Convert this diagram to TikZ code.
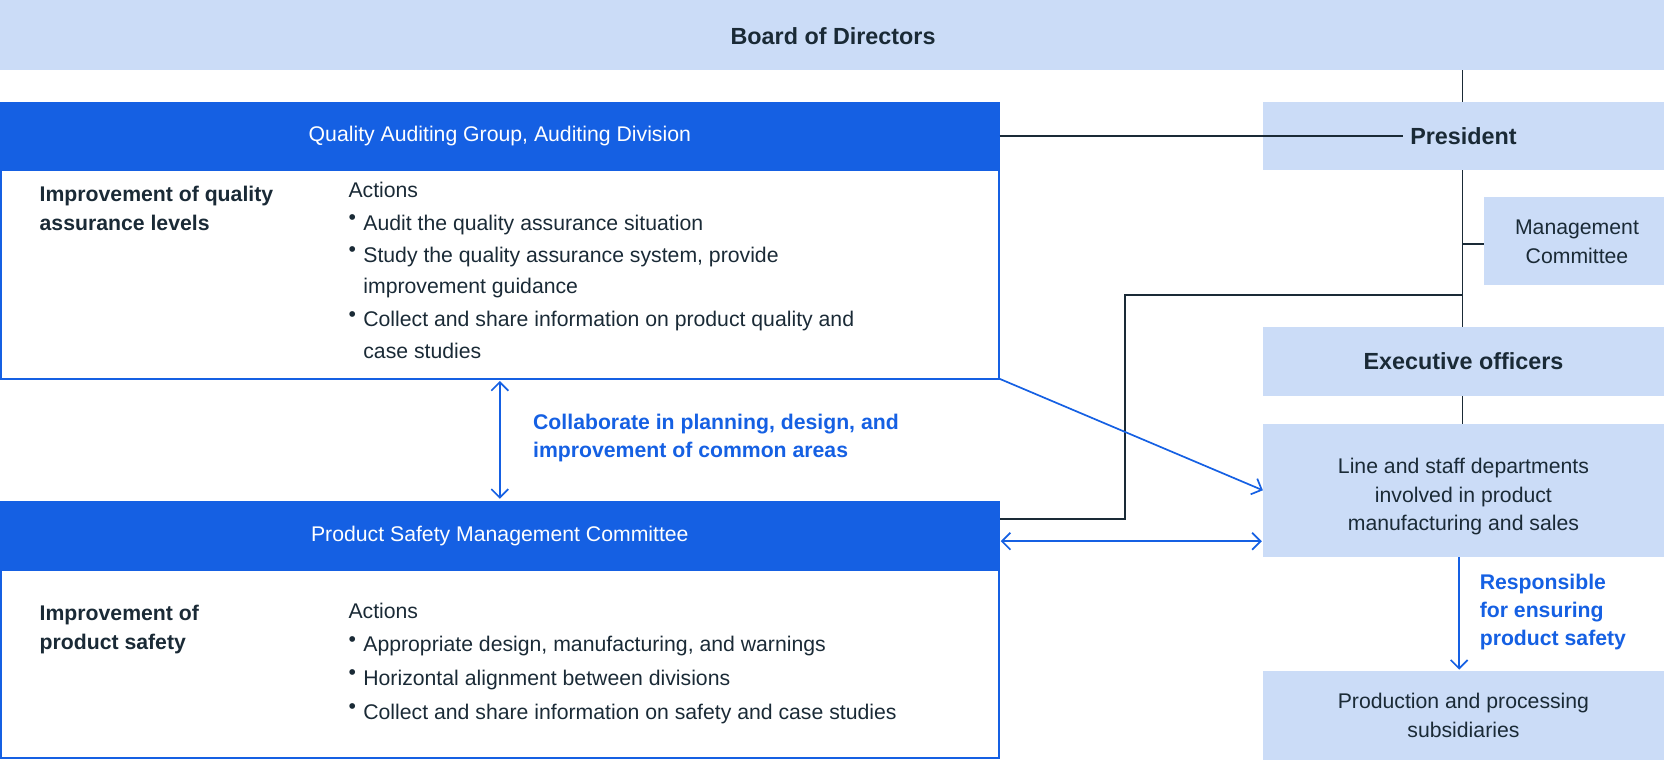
\documentclass[tikz,border=0pt]{standalone}
\usepackage{fontspec}
\setmainfont{Liberation Sans}
\usetikzlibrary{arrows.meta}
\definecolor{lb}{HTML}{CBDCF7}
\definecolor{db}{HTML}{1560E3}
\definecolor{tx}{HTML}{1A2A36}
\begin{document}
\begin{tikzpicture}[x=0.5pt,y=-0.5pt,
  lbox/.style={fill=lb,draw=none},
  t/.style={text=tx,font=\fontsize{10}{13.5}\selectfont,align=center},
  ln/.style={draw=tx,line width=0.8pt},
  bl/.style={draw=db,line width=0.8pt,-{Straight Barb[length=4pt,width=8pt]}},
  bll/.style={draw=db,line width=0.8pt,{Straight Barb[length=4pt,width=8pt]}-{Straight Barb[length=4pt,width=8pt]}},
  bt/.style={text=db,font=\fontsize{10}{13}\selectfont\bfseries,align=left,anchor=north west,inner sep=0},
  lt/.style={text=tx,font=\fontsize{10}{15}\selectfont,align=left,anchor=north west,inner sep=0}]
\useasboundingbox (0,0) rectangle (1568,716);
% vertical trunk
\coordinate (v0) at (1378,66);
\coordinate (v1) at (1378,430);
\draw[ln] (v0) -- (v1);
\coordinate (mj) at (1378,230);
\coordinate (pj) at (1378,278);
\coordinate (pk) at (1060,278);
\coordinate (pl) at (1060,489);
% boxes
\fill[lb] (0,0) rectangle (1568,66);
\node[t,font=\fontsize{11}{13}\selectfont\bfseries] (board) at (785,34) {Board of Directors};
\fill[lb] (1190,96) rectangle (1568,160);
\node[t,font=\fontsize{11}{13}\selectfont\bfseries] (pres) at (1379,128) {President};
\fill[lb] (1398,186) rectangle (1568,269);
\node[t] (mc) at (1486,228) {Management\\Committee};
\fill[lb] (1190,308) rectangle (1568,373);
\node[t,font=\fontsize{11}{13}\selectfont\bfseries] (exec) at (1379,340) {Executive officers};
\fill[lb] (1190,400) rectangle (1568,525);
\node[t] (line) at (1379,468) {Line and staff departments\\involved in product\\manufacturing and sales};
\fill[lb] (1190,632) rectangle (1568,716);
\node[t] (prod) at (1379,674) {Production and processing\\subsidiaries};
% QA
\fill[db] (0,96) rectangle (942,160);
\draw[db,line width=0.8pt] (0.7,160) rectangle (941.3,357);
\node[t,text=white] (qa) at (471,128) {Quality Auditing Group, Auditing Division};
\node[lt,font=\fontsize{10}{13.5}\selectfont\bfseries] (qal) at (37,175) {Improvement of quality\\assurance levels};
\node[lt] (qaa) at (328,171) {Actions};
\node[lt] at (328,202) {•};
\node[lt] at (342,202) {Audit the quality assurance situation};
\node[lt] at (328,232) {•};
\node[lt] at (342,232) {Study the quality assurance system, provide\\improvement guidance};
\node[lt] at (328,293) {•};
\node[lt] at (342,293) {Collect and share information on product quality and\\case studies};
% PSMC
\fill[db] (0,472) rectangle (942,537);
\draw[db,line width=0.8pt] (0.7,537) rectangle (941.3,714);
\node[t,text=white] (ps) at (471,505) {Product Safety Management Committee};
\node[lt,font=\fontsize{10}{13.5}\selectfont\bfseries] (psl) at (37,570) {Improvement of\\product safety};
\node[lt] at (328,568) {Actions};
\node[lt] at (328,599) {•};
\node[lt] at (342,599) {Appropriate design, manufacturing, and warnings};
\node[lt] at (328,631) {•};
\node[lt] at (342,631) {Horizontal alignment between divisions};
\node[lt] at (328,663) {•};
\node[lt] at (342,663) {Collect and share information on safety and case studies};
% connectors
\coordinate (qr) at (942,128);
\draw[ln] (qr) -- (pres.west |- qr) -- (1190,128);
\draw[ln] (mj) -- (1398,230);
\draw[ln] (pj) -- (pk) -- (pl) -- (942,489);
\coordinate (qb) at (942,357);
\coordinate (la) at (1190,462);
\draw[bl] (qb) -- (la);
\coordinate (pa) at (943,510);
\coordinate (pb) at (1189,510);
\draw[bll] (pa) -- (pb);
\coordinate (qd) at (471,359);
\coordinate (pd) at (471,470);
\draw[bll] (qd) -- (pd);
\node[bt] (collab) at (502,390) {Collaborate in planning, design, and\\improvement of common areas};
\coordinate (ld) at (1375,525);
\coordinate (pu) at (1375,631);
\draw[bl] (ld) -- (pu);
\node[bt] (resp) at (1394,541) {Responsible\\for ensuring\\product safety};
\end{tikzpicture}
\end{document}
